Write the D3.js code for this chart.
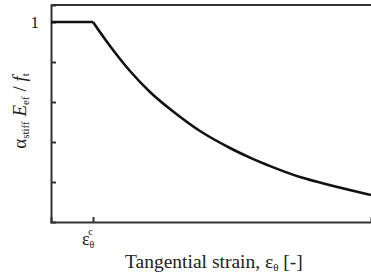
<!DOCTYPE html>
<html>
<head>
<meta charset="utf-8">
<script src="https://cdn.jsdelivr.net/npm/d3@7"></script>
<style>
  body { margin: 0; background: #fff; }
  text { font-family: "Liberation Serif", "Times New Roman", serif; fill: #222; }
</style>
</head>
<body>
<div id="chart-area"></div>
<script>
// 1. Data (strain normalised by the cracking strain, eps / eps_c)
var plateau_strain = [0, 1];
var plateau_value = [1, 1];
var decay_strain = [1, 1.405, 1.881, 2.357, 2.833, 3.548, 4.262, 4.738, 5.095, 5.929, 7.62];
var decay_value = [1, 0.88, 0.755, 0.65, 0.565, 0.455, 0.37, 0.322, 0.29, 0.225, 0.135];
var y_ticks = [0.2, 0.4, 0.6, 0.8, 1];
var x_ticks = [1];

var svg_width = 371, svg_height = 275;
var margin = { top: 5, right: 0, bottom: 53, left: 51 };
var width = svg_width - margin.left - margin.right;
var height = svg_height - margin.top - margin.bottom;

var svg = d3.select("#chart-area").append("svg")
    .attr("width", svg_width)
    .attr("height", svg_height);

var g = svg.append("g")
    .attr("transform", "translate(" + margin.left + "," + margin.top + ")");

// 2. Scales
var x_scaling = d3.scaleLinear().domain([0, 7.62]).range([0, width]);
var y_scaling = d3.scaleLinear().domain([0, 1.085]).range([height, 0]);

// 3. Axes
var y_axis_call = d3.axisLeft(y_scaling)
    .tickValues(y_ticks)
    .tickSize(-5)
    .tickPadding(12)
    .tickFormat(function (d) { return d === 1 ? "1" : ""; });

var x_axis_call = d3.axisBottom(x_scaling)
    .tickValues(x_ticks)
    .tickSize(-5)
    .tickFormat("");

var y_axis = g.append("g").attr("class", "y_axis").call(y_axis_call);
var x_axis = g.append("g").attr("class", "x_axis")
    .attr("transform", "translate(0," + height + ")")
    .call(x_axis_call);

[y_axis, x_axis].forEach(function (a) {
    a.select(".domain").attr("stroke", "#333").attr("stroke-width", 2);
    a.selectAll(".tick line").attr("stroke", "#333").attr("stroke-width", 2);
});
y_axis.selectAll(".tick text")
    .attr("font-family", "Liberation Serif")
    .attr("font-size", "17px")
    .attr("fill", "#222");

// top frame line
g.append("line")
    .attr("x1", 0).attr("x2", width)
    .attr("y1", 0).attr("y2", 0)
    .attr("stroke", "#333").attr("stroke-width", 2);

// 4. Curves
var line = d3.line()
    .x(function (d) { return x_scaling(d[0]); })
    .y(function (d) { return y_scaling(d[1]); });

g.append("path")
    .datum(d3.zip(plateau_strain, plateau_value))
    .attr("fill", "none").attr("stroke", "#111").attr("stroke-width", 2.6)
    .attr("d", line);

g.append("path")
    .datum(d3.zip(decay_strain, decay_value))
    .attr("fill", "none").attr("stroke", "#111").attr("stroke-width", 2.6)
    .attr("stroke-linejoin", "round")
    .attr("d", line.curve(d3.curveCatmullRom.alpha(0.5)));

// 5. Labels
var eps_label = g.append("text")
    .attr("x", x_scaling(1) - 11)
    .attr("y", height + 23)
    .attr("font-size", "18px");
eps_label.append("tspan").text("ε");
eps_label.append("tspan").attr("font-size", "10px").attr("dy", 3).text("θ");
eps_label.append("tspan").attr("font-size", "10px").attr("dx", -6).attr("dy", -13).text("c");

var x_label = g.append("text")
    .attr("x", 74)
    .attr("y", height + 46)
    .attr("font-size", "19.5px");
x_label.append("tspan").text("Tangential strain, ε");
x_label.append("tspan").attr("font-size", "11px").attr("dy", 3).text("θ");
x_label.append("tspan").attr("dy", -3).text(" [-]");

var y_label = svg.append("text")
    .attr("transform", "translate(26,111) rotate(-90)")
    .attr("text-anchor", "middle")
    .attr("font-size", "19px");
y_label.append("tspan").text("α");
y_label.append("tspan").attr("font-size", "11px").attr("dy", 3).text("stiff");
y_label.append("tspan").attr("dy", -3).attr("font-style", "italic").text(" E");
y_label.append("tspan").attr("font-size", "11px").attr("dy", 3).text("ef");
y_label.append("tspan").attr("dy", -3).text(" / ");
y_label.append("tspan").attr("font-style", "italic").text("f");
y_label.append("tspan").attr("font-size", "11px").attr("dy", 3).text("t");
</script>
</body>
</html>
